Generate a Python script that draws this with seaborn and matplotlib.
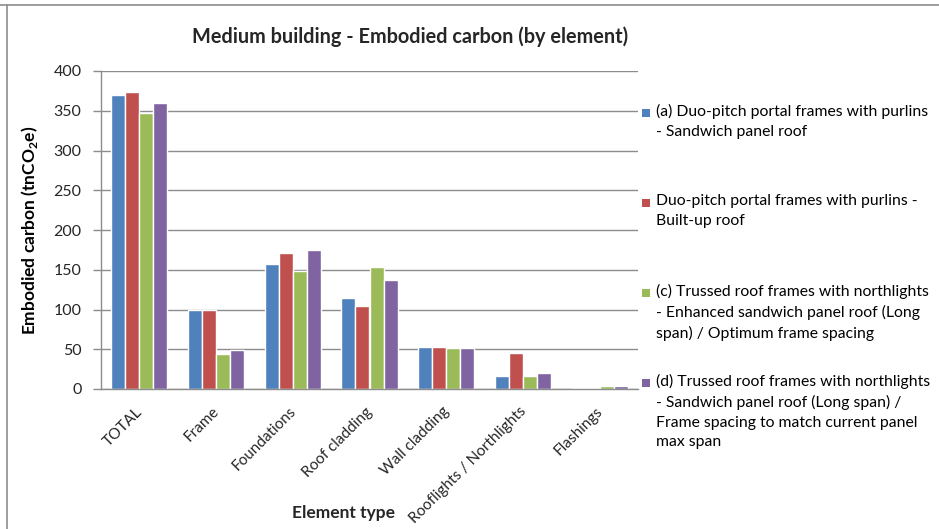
import numpy as np
import pandas as pd
import seaborn as sns
import matplotlib
matplotlib.use("Agg")
import matplotlib.pyplot as plt
from matplotlib.patches import Rectangle
from matplotlib.lines import Line2D

categories = ["TOTAL", "Frame", "Foundations", "Roof cladding", "Wall cladding",
              "Rooflights / Northlights", "Flashings"]
series_names = [
    "(a) Duo-pitch portal frames with purlins\n- Sandwich panel roof",
    "Duo-pitch portal frames with purlins -\nBuilt-up roof",
    "(c) Trussed roof frames with northlights\n- Enhanced sandwich panel roof (Long\nspan) / Optimum frame spacing",
    "(d) Trussed roof frames with northlights\n- Sandwich panel roof (Long span) /\nFrame spacing to match current panel\nmax span",
]
vals_a = [370, 100, 157, 115, 53, 16.5, 1.6]
vals_b = [373, 100, 171, 105, 53, 45, 1.6]
vals_c = [347, 43.5, 149, 154, 52, 16.5, 4]
vals_d = [359.5, 48.5, 175, 137, 52, 20, 4]
colors = ["#4F81BD", "#C0504D", "#9BBB59", "#8064A2"]
yticks = [0, 50, 100, 150, 200, 250, 300, 350, 400]

sns.set_theme(style="white")
FONT = ["Lato", "DejaVu Sans"]
plt.rcParams["font.family"] = FONT
plt.rcParams["mathtext.fontset"] = "custom"
plt.rcParams["mathtext.rm"] = "Lato"
plt.rcParams["mathtext.bf"] = "Lato:bold"

rows = []
for name, vals in zip(series_names, [vals_a, vals_b, vals_c, vals_d]):
    for c, v in zip(categories, vals):
        rows.append({"Element type": c, "value": v, "series": name})
df = pd.DataFrame(rows)

W, H = 939, 529
fig = plt.figure(figsize=(W / 100, H / 100), dpi=100)
ax = fig.add_axes([101 / W, 1 - 389 / H, (638 - 101) / W, (389 - 71) / H])

sns.barplot(data=df, x="Element type", y="value", hue="series", order=categories,
            hue_order=series_names, palette=colors, width=0.73, gap=0,
            saturation=1, ax=ax, legend=False, errorbar=None)

ax.set_ylim(0, 400)
ax.set_xlim(-0.5, len(categories) - 0.5)
ax.set_yticks(yticks)
ax.set_yticklabels([str(t) for t in yticks], fontsize=11.5, color="#262626")
ax.yaxis.grid(True, color="#8c8c8c", linewidth=1)
ax.set_axisbelow(True)
for s in ["top", "right"]:
    ax.spines[s].set_visible(False)
for s in ["left", "bottom"]:
    ax.spines[s].set_color("#8c8c8c")
    ax.spines[s].set_linewidth(1)
ax.tick_params(axis="y", which="both", left=True, length=6, width=1, color="#8c8c8c", pad=8)
ax.tick_params(axis="x", length=0, pad=14)
ax.set_xticks(range(len(categories)))
ax.set_xticklabels(categories, rotation=45, ha="right", va="center_baseline",
                   rotation_mode="anchor", fontsize=11, color="#262626")
ax.set_xlabel("")
ax.set_ylabel(r"Embodied carbon (tnCO$_\mathbf{2}$e)", fontsize=12.5,
              fontweight="bold", labelpad=10, color="#000000")

fig.text(410 / W, 1 - 37 / H, "Medium building - Embodied carbon (by element)",
         ha="center", va="center", fontsize=14.3, fontweight="bold")
fig.text(343 / W, 1 - 513 / H, "Element type", ha="center", va="center",
         fontsize=12.5, fontweight="bold")

# legend
first_line_y = [113, 203, 293, 383]
for name, col, yy in zip(series_names, colors, first_line_y):
    fig.patches.append(Rectangle((642 / W, 1 - (yy + 4) / H), 8 / W, 8 / H,
                                 transform=fig.transFigure, facecolor=col,
                                 edgecolor="none"))
    fig.text(656 / W, 1 - (yy - 9) / H, name, ha="left", va="top",
             fontsize=11.3, linespacing=1.5, color="#000000")

# chart border (top and left visible)
fig.lines.append(Line2D([0, 1], [1 - 5 / H, 1 - 5 / H], transform=fig.transFigure,
                        color="#8c8c8c", linewidth=1.2))
fig.lines.append(Line2D([7 / W, 7 / W], [0, 1 - 5 / H], transform=fig.transFigure,
                        color="#8c8c8c", linewidth=1.2))

fig.savefig("out.png", dpi=100)
